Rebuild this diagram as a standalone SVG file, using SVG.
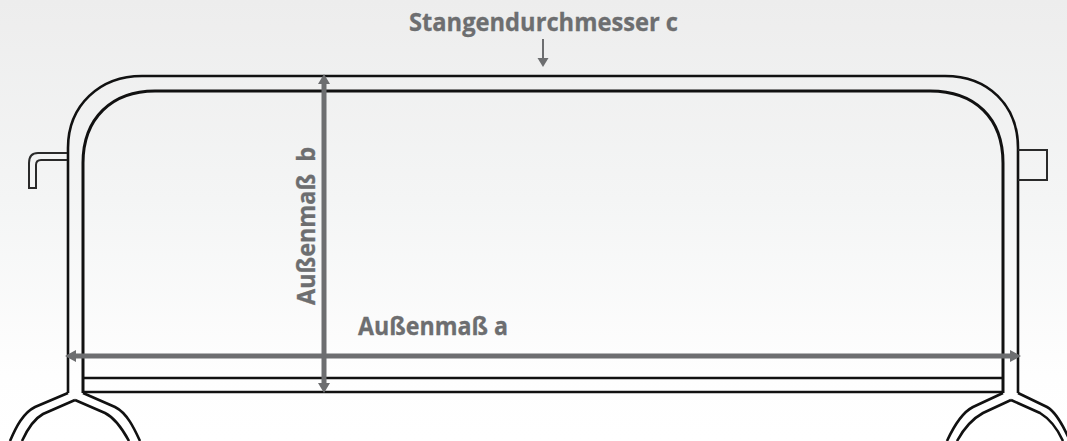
<svg xmlns="http://www.w3.org/2000/svg" width="1067" height="441" viewBox="0 0 1067 441">
<style>
.l{fill:none;stroke:#111;stroke-width:2.6;stroke-linejoin:miter}
.m{stroke-width:3}
.t{fill:none;stroke:#2a2a2a;stroke-width:2}
.a{stroke:#6d6e70;stroke-width:5;fill:none}
.h{fill:#6d6e70;stroke:none}
text{font-family:"Open Sans","Noto Sans",sans-serif;font-weight:700;fill:#6d6e70;stroke:#6d6e70;stroke-width:.3;font-size:25.500px}
</style>
<defs><linearGradient id="bg" x1="0" y1="0" x2="0" y2="1"><stop offset="0" stop-color="#ededed"/><stop offset=".45" stop-color="#f4f5f5"/><stop offset=".85" stop-color="#fefefe"/><stop offset="1" stop-color="#fff"/></linearGradient></defs>
<rect width="1067" height="441" fill="url(#bg)"/>
<g id="frame">
<path class="l" d="M68 393V148C68 105 100 76 142 76H945C988 76 1018 105 1018 148V393"/>
<path class="l m" d="M83 393V163C83 118 112 91 155 91H930C975 91 1003 118 1003 163V393"/>
<path class="l" d="M83 378H1003M83 392H1003"/>
</g>
<g id="left-foot">
<path class="l" d="M68 393L35 407C23 413 16 427 10 441"/>
<path class="l" d="M83 393L115 407C127 413 134 428 140 441"/>
<path class="l" d="M75 400L43 414C34 419 27 430 22 441"/>
<path class="l" d="M75 400L105 413C115 418 123 430 129 441"/>
</g>
<g id="right-foot">
<path class="l" d="M1003 393L973 407C961 413 953 428 947 441"/>
<path class="l" d="M1018 393L1047 407C1056 412 1063 425 1070 441"/>
<path class="l" d="M1011 400L983 413C972 419 963 430 957 441"/>
<path class="l" d="M1011 400L1040 413C1050 419 1058 430 1063 441"/>
</g>
<g id="hook"><path class="t" d="M67 153H38C32 153 29 157 29 163V188H36V165C36 162 38 160 41 160H67"/></g>
<g id="box"><path class="t" d="M1018 150H1047V180H1018"/></g>
<g id="connectors">
<path class="a" d="M324 84V385M74 356H1012"/>
<path class="h" d="M324 74L330 84H318ZM324 393L318 383H330ZM65 356L76 350V362ZM1021 356L1010 350V362Z"/>
<path d="M543 39V60" stroke="#6d6e70" stroke-width="2" fill="none"/>
<path class="h" d="M543 67L537.500 58H548.500Z"/>
</g>
<g id="labels">
<text x="409" y="31" textLength="269" lengthAdjust="spacingAndGlyphs">Stangendurchmesser c</text>
<text x="358" y="335" textLength="150" lengthAdjust="spacingAndGlyphs">Außenmaß a</text>
<text transform="translate(315 305) rotate(-90)" xml:space="preserve" textLength="158" lengthAdjust="spacingAndGlyphs">Außenmaß  b</text>
</g>
</svg>
